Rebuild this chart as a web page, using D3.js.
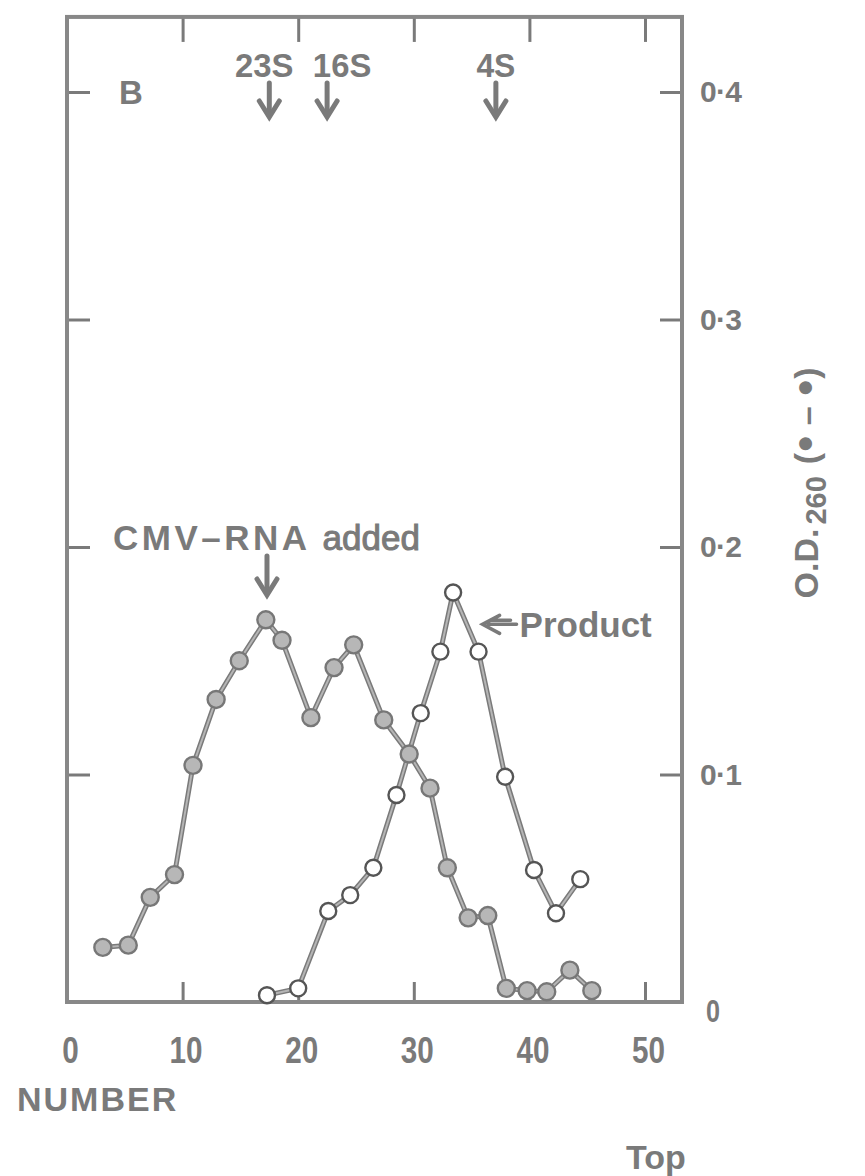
<!DOCTYPE html>
<html>
<head>
<meta charset="utf-8">
<script src="https://cdn.jsdelivr.net/npm/d3@7"></script>
<style>
  html, body { margin: 0; padding: 0; background: #fff; }
  svg text { font-family: "Liberation Sans", Arial, sans-serif; font-weight: bold; fill: #7a7a7a; }
</style>
</head>
<body>
<svg id="chart" width="865" height="1176"></svg>
<script>
// Sucrose gradient fractions (fraction number from bottom of tube)
const xTicks = [0, 10, 20, 30, 40, 50];
const yTicks = [0, 0.1, 0.2, 0.3, 0.4];

// O.D. 260 profile (filled circles)
const odFraction = [3.1, 5.3, 7.2, 9.3, 10.9, 12.9, 14.9, 17.2, 18.6, 21.1, 23.1, 24.8,
                    27.4, 29.6, 31.4, 32.9, 34.7, 36.4, 38.0, 39.8, 41.5, 43.5, 45.4];
const odValue    = [0.024, 0.025, 0.046, 0.056, 0.104, 0.133, 0.150, 0.168, 0.159, 0.125, 0.147, 0.157,
                    0.124, 0.109, 0.094, 0.059, 0.037, 0.038, 0.006, 0.005, 0.0045, 0.014, 0.005];

// Product profile (open circles)
const productFraction = [17.3, 20.0, 22.6, 24.5, 26.5, 28.5, 30.6, 32.3, 33.4, 35.6, 37.9, 40.4, 42.3, 44.4];
const productValue    = [0.003, 0.006, 0.040, 0.047, 0.059, 0.091, 0.127, 0.154, 0.180, 0.154, 0.099, 0.058, 0.039, 0.054];

// Sedimentation markers
const markerLabels   = ["23S", "16S", "4S"];
const markerFraction = [17.5, 22.5, 37.1];
const markerLabelDx  = [-5, 15, 0];

const svg = d3.select("#chart");
const grey = "#7a7a7a";

const x = d3.scaleLinear().domain([0, 53.2]).range([67, 682]);
const y = d3.scaleLinear().domain([0, 0.4]).range([1002, 92]);
const yTop = y(0.433);

// axes with inward ticks on all four sides
const axStyle = g => {
  g.select(".domain").remove();
  g.selectAll(".tick line").attr("stroke", grey).attr("stroke-width", 3);
};

svg.append("g").attr("transform", `translate(${x(0)},0)`)
  .call(d3.axisLeft(y).tickValues([0.1, 0.2, 0.3, 0.4]).tickSizeInner(-23).tickFormat(""))
  .call(axStyle);

svg.append("g").attr("transform", `translate(0,${yTop})`)
  .call(d3.axisTop(x).tickValues([10, 20, 30, 40, 50]).tickSizeInner(-25).tickFormat(""))
  .call(axStyle);

const bottom = svg.append("g").attr("transform", `translate(0,${y(0)})`)
  .call(d3.axisBottom(x).tickValues(xTicks).tickSizeInner(-20).tickPadding(35).tickFormat(d3.format("d")))
  .call(axStyle);
// condensed digits
bottom.selectAll(".tick text")
  .attr("font-size", 37).attr("dx", 3).attr("fill", grey).style("font-weight", "bold")
  .attr("textLength", d => String(d).length * 16.5).attr("lengthAdjust", "spacingAndGlyphs");
bottom.selectAll(".tick").filter(d => d === 0).select("line").remove();

const right = svg.append("g").attr("transform", `translate(${x.range()[1]},0)`)
  .call(d3.axisRight(y).tickValues(yTicks).tickSizeInner(-22).tickPadding(18)
        .tickFormat(d => d === 0 ? "0" : "0\u00b7" + Math.round(d * 10)))
  .call(axStyle);
right.selectAll(".tick text")
  .attr("font-size", 30).attr("fill", grey)
  .attr("textLength", 42).attr("lengthAdjust", "spacing");
right.selectAll(".tick").filter(d => d === 0).call(t => {
  t.select("line").remove();
  t.select("text").attr("x", 24).attr("dy", "0.62em").attr("font-size", 32)
    .attr("textLength", 14).attr("lengthAdjust", "spacingAndGlyphs");
});

// frame
svg.append("rect")
  .attr("x", x(0)).attr("y", yTop)
  .attr("width", x.range()[1] - x(0)).attr("height", y(0) - yTop)
  .attr("fill", "none").attr("stroke", "#888").attr("stroke-width", 4);

// data lines drawn as a dark band with a light core
const line = d3.line().x(d => x(d[0])).y(d => y(d[1]));
const odPts = odFraction.map((f, i) => [f, odValue[i]]);
const prPts = productFraction.map((f, i) => [f, productValue[i]]);

[odPts, prPts].forEach(pts => {
  svg.append("path").datum(pts).attr("d", line)
    .attr("fill", "none").attr("stroke", "#7a7a7a").attr("stroke-width", 5);
  svg.append("path").datum(pts).attr("d", line)
    .attr("fill", "none").attr("stroke", "#b5b5b5").attr("stroke-width", 2);
});

svg.append("g").selectAll("circle").data(odPts).join("circle")
  .attr("cx", d => x(d[0])).attr("cy", d => y(d[1])).attr("r", 8.5)
  .attr("fill", "#b7b7b7").attr("stroke", "#777").attr("stroke-width", 2.4);

svg.append("g").selectAll("circle").data(prPts).join("circle")
  .attr("cx", d => x(d[0])).attr("cy", d => y(d[1])).attr("r", 8)
  .attr("fill", "#fff").attr("stroke", "#555").attr("stroke-width", 2.4);

// down arrow helper
function downArrow(cx, y0, y1, hw) {
  const g = svg.append("g").attr("stroke", grey).attr("fill", "none").attr("stroke-linecap", "round");
  g.append("line").attr("x1", cx).attr("x2", cx).attr("y1", y0).attr("y2", y1 - 4).attr("stroke-width", 5);
  g.append("path").attr("d", `M${cx - hw},${y1 - hw * 1.6} L${cx},${y1} L${cx + hw},${y1 - hw * 1.6}`)
    .attr("stroke-width", 5).attr("stroke-linejoin", "miter");
}

// sedimentation markers
markerLabels.forEach((lab, i) => {
  const cx = x(markerFraction[i]);
  svg.append("text").attr("x", cx + markerLabelDx[i]).attr("y", 77)
    .attr("text-anchor", "middle").attr("font-size", 33)
    .attr("textLength", lab.length * 19.5).attr("lengthAdjust", "spacingAndGlyphs").text(lab);
  downArrow(cx, 83, 117, 10);
});

// panel letter
svg.append("text").attr("x", 119).attr("y", 104).attr("font-size", 33).text("B");

// CMV-RNA annotation
const cmv = svg.append("text").attr("x", 113).attr("y", 550).attr("font-size", 35);
cmv.append("tspan").attr("letter-spacing", 3.5).text("CMV\u2013RNA");
cmv.append("tspan").attr("dx", 12).style("font-weight", "normal").attr("stroke", grey).attr("stroke-width", 1).text("added");
downArrow(x(17.3), 556, 595, 10);

// Product annotation
const px = x(35.6) + 4, py = y(0.166);
svg.append("path")
  .attr("d", `M${px + 17},${py - 9} L${px},${py} L${px + 17},${py + 9} M${px + 6},${py} L${px + 34},${py} M${px + 9},${py - 4} L${px + 28},${py - 4}`)
  .attr("fill", "none").attr("stroke", grey).attr("stroke-width", 3.5).attr("stroke-linecap", "round");
svg.append("text").attr("x", px + 37).attr("y", py + 13).attr("font-size", 35).text("Product");

// axis titles
svg.append("text").attr("x", 17).attr("y", 1111).attr("font-size", 34).attr("letter-spacing", 2).text("NUMBER");
svg.append("text").attr("x", 626).attr("y", 1169).attr("font-size", 34).text("Top");

// right-hand axis title: O.D.260 (filled symbol – filled symbol)
const yl = svg.append("text").attr("transform", "translate(818,483) rotate(-90)")
  .attr("text-anchor", "middle").attr("font-size", 34);
yl.append("tspan").text("O.D.");
yl.append("tspan").attr("dy", 8).attr("font-size", 29).attr("dx", 4).text("260");
yl.append("tspan").attr("dy", -8).attr("dx", 12).text("(");
yl.append("tspan").attr("font-size", 30).attr("dy", -4).text("\u25cf");
yl.append("tspan").attr("font-size", 34).attr("dy", 4).text(" \u2013 ");
yl.append("tspan").attr("font-size", 30).attr("dy", -4).text("\u25cf");
yl.append("tspan").attr("font-size", 34).attr("dy", 4).text(")");
</script>
</body>
</html>
